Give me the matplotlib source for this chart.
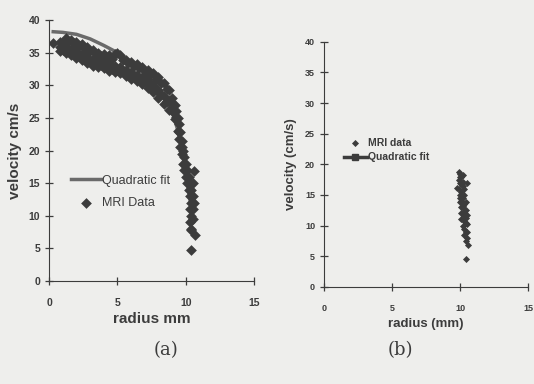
import matplotlib
matplotlib.use('Agg')
import matplotlib.pyplot as plt

# panel (a): MRI velocity profile, read as rows across the band
r_band = [0.8, 1.2, 1.6, 2.0, 2.4, 2.8, 3.2, 3.6, 4.0, 4.4, 4.8, 5.2, 5.6, 6.0, 6.4,
          6.8, 7.2, 7.6, 8.0, 8.4, 8.8]
v_upper = [36.6, 37.2, 36.9, 36.6, 36.3, 35.8, 35.4, 35.0, 34.8, 34.6, 34.8, 34.6, 33.8,
           33.6, 33.2, 32.8, 32.4, 31.8, 31.2, 30.4, 29.2]
v_middle = [35.8, 36.0, 35.6, 35.2, 34.8, 34.4, 34.0, 33.8, 33.5, 33.2, 33.0, 32.8, 32.4,
            32.0, 31.6, 31.2, 30.6, 30.0, 29.2, 28.4, 27.6]
v_lower = [35.2, 35.0, 34.6, 34.2, 33.8, 33.4, 33.0, 32.8, 32.6, 32.2, 32.0, 31.8, 31.4,
           31.0, 30.6, 30.2, 29.6, 29.0, 28.0, 27.2, 26.2]

# in-between rows, shifted half a step
r_band2 = [1.0, 1.4, 1.8, 2.2, 2.6, 3.0, 3.4, 3.8, 4.2, 4.6, 5.0, 5.4, 5.8, 6.2, 6.6,
           7.0, 7.4, 7.8, 8.2, 8.6]
v_upper2 = [36.4, 36.8, 36.4, 36.0, 35.6, 35.2, 34.8, 34.5, 34.2, 34.0, 35.0, 33.8, 33.4,
            33.0, 32.6, 32.2, 31.6, 31.0, 30.4, 29.4]
v_lower2 = [35.4, 35.2, 34.9, 34.6, 34.1, 33.6, 33.3, 33.1, 32.8, 32.5, 32.4, 32.2, 31.8,
            31.4, 31.0, 30.6, 30.0, 29.3, 28.6, 27.6]

# near the wall (steep part) plus the lone points
r_wall = [0.3, 9.0, 9.0, 9.2, 9.2, 9.3, 9.4, 9.4, 9.5, 9.5, 9.6, 9.6, 9.7, 9.7, 9.8, 9.8,
          9.9, 9.9, 10.0, 10.0, 10.1, 10.1, 10.2, 10.2, 10.3, 10.3, 10.4, 10.4, 10.5, 10.3,
          10.4, 10.5, 10.3, 10.4, 10.5, 10.6, 10.6, 10.7, 10.4, 10.4, 9.1, 9.3, 9.5, 9.7,
          9.9, 10.1, 10.3, 10.5, 10.5]
v_wall = [36.5, 28.0, 26.0, 27.0, 24.8, 26.0, 25.0, 23.0, 24.0, 21.8, 22.8, 20.5, 21.5, 19.5,
          20.0, 18.0, 19.0, 17.0, 18.0, 16.0, 17.0, 15.0, 16.0, 14.0, 15.0, 13.0, 14.0, 12.0,
          13.0, 11.0, 10.0, 11.0, 9.0, 8.0, 9.5, 16.8, 12.0, 7.0, 4.7, 7.8, 27.0, 25.2,
          22.8, 20.5, 18.0, 16.0, 14.0, 12.0, 15.0]

# quadratic fit curve (a)
fit_r_a = [0.3, 1.0, 2.0, 3.0, 4.0, 5.0, 6.0, 7.0, 8.0, 9.0, 9.5, 10.0, 10.4]
fit_v_a = [38.2, 38.1, 37.8, 37.1, 36.1, 35.0, 33.6, 31.8, 29.5, 26.0, 22.5, 17.0, 11.0]

# panel (b): near-wall points only
r_b = [9.9, 10.0, 10.1, 9.9, 10.2, 10.0, 10.2, 9.9, 10.1, 10.3, 10.0, 10.2, 10.1,
       10.3, 10.1, 10.4, 10.2, 10.3, 10.1, 10.4, 10.2, 10.3, 10.4, 10.3, 10.5, 10.4,
       10.6, 10.4, 10.0, 10.2, 10.5, 10.2, 9.8, 10.1, 10.0, 10.3, 10.2, 10.4, 10.3,
       10.5, 10.4, 10.5, 10.1, 10.0, 10.3, 10.5]
v_b = [18.8, 18.5, 18.0, 17.5, 17.2, 17.0, 16.5, 16.0, 15.5, 15.0, 15.0, 14.5, 14.0,
       13.5, 13.0, 12.5, 12.0, 11.5, 11.0, 10.5, 10.0, 9.5, 9.0, 8.5, 8.0, 7.5,
       6.8, 4.6, 13.8, 18.2, 11.8, 12.8, 16.2, 16.8, 14.5, 16.0, 13.2, 13.8, 12.2,
       10.2, 11.2, 9.0, 12.0, 18.0, 10.8, 17.0]

ticks_x = [0, 5, 10, 15]
ticks_y = [0, 5, 10, 15, 20, 25, 30, 35, 40]

bg = '#eeeeec'
ink = '#3c3c3c'
plt.rcParams['font.family'] = ['Liberation Sans', 'DejaVu Sans']

fig = plt.figure(figsize=(5.34, 3.84), dpi=100, facecolor=bg)
ax1 = fig.add_axes([0.092, 0.268, 0.384, 0.680])
ax2 = fig.add_axes([0.607, 0.253, 0.382, 0.638])

for ax in (ax1, ax2):
    ax.set_facecolor(bg)
    ax.set_xlim(0, 15)
    ax.set_ylim(0, 40)
    ax.set_xticks(ticks_x)
    ax.set_yticks(ticks_y)
    ax.spines['top'].set_visible(False)
    ax.spines['right'].set_visible(False)
    ax.spines['left'].set_color(ink)
    ax.spines['bottom'].set_color(ink)
    ax.tick_params(direction='inout', length=6, width=0.9, colors=ink)
    ax.tick_params(axis='x', pad=9)

ax1.tick_params(labelsize=7.5)
ax2.tick_params(labelsize=6.5)
for ax in (ax1, ax2):
    for lab in ax.get_xticklabels() + ax.get_yticklabels():
        lab.set_fontweight('bold')

ax1.plot(fit_r_a, fit_v_a, color='#6a6a6a', lw=2.5, label='Quadratic fit', zorder=2)
r_all = r_band * 3 + r_band2 * 2 + r_wall
v_all = v_upper + v_middle + v_lower + v_upper2 + v_lower2 + v_wall
ax1.scatter(r_all, v_all, marker='D', s=30, color=ink, label='MRI Data', zorder=3, linewidths=0)
ax1.set_xlabel('radius mm', fontsize=11, fontweight='bold', color=ink, labelpad=3)
ax1.set_ylabel('velocity cm/s', fontsize=11, fontweight='bold', color=ink, labelpad=5)
ax1.legend(loc='upper left', bbox_to_anchor=(0.05, 0.45), frameon=False, fontsize=9,
           handlelength=2.4, handletextpad=0.1, labelspacing=0.85, labelcolor=ink)

ax2.scatter(r_b, v_b, marker='D', s=13, color=ink, label='MRI data', zorder=3, linewidths=0)
ax2.plot([], [], color=ink, lw=2.5, marker='s', ms=4, label='Quadratic fit')
ax2.set_xlabel('radius (mm)', fontsize=9.5, fontweight='bold', color=ink, labelpad=4)
ax2.set_ylabel('velocity (cm/s)', fontsize=9.5, fontweight='bold', color=ink, labelpad=6)
leg = ax2.legend(loc='upper left', bbox_to_anchor=(0.05, 0.645), frameon=False, fontsize=7.5,
                 handlelength=2.2, handletextpad=0.1, labelspacing=0.4, labelcolor=ink)
for t in leg.get_texts():
    t.set_fontweight('bold')

fig.text(0.31, 0.075, '(a)', fontsize=13, family='DejaVu Serif', color=ink, ha='center')
fig.text(0.75, 0.075, '(b)', fontsize=13, family='DejaVu Serif', color=ink, ha='center')

fig.savefig('out.png', dpi=100, facecolor=bg)
